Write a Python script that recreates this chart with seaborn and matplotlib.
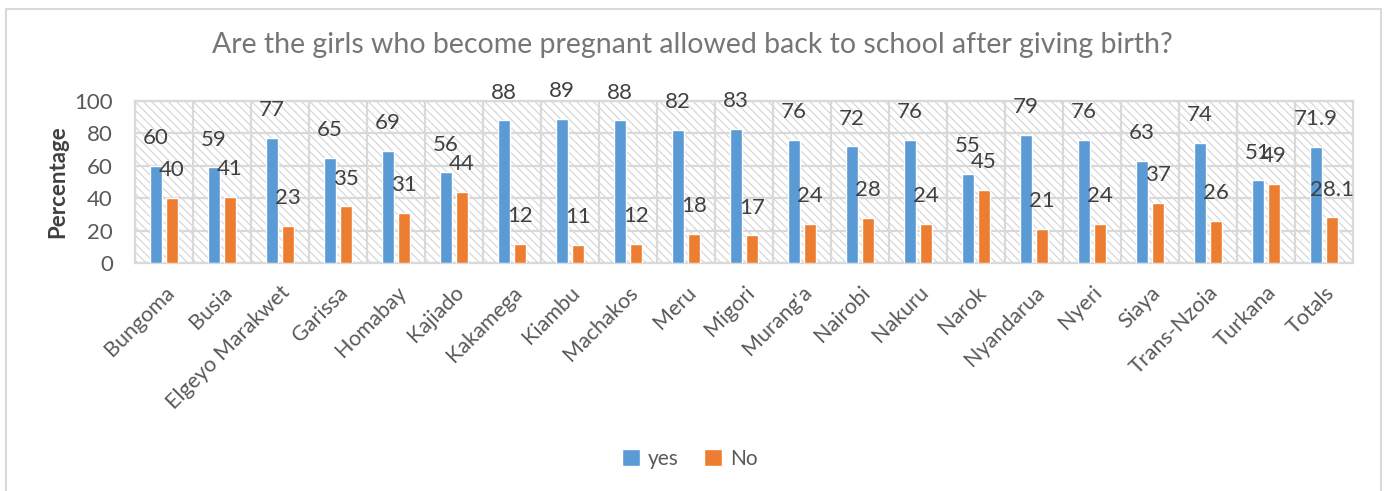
import matplotlib
matplotlib.use("Agg")
import matplotlib.pyplot as plt
from matplotlib.patches import Rectangle, Patch
import seaborn as sns
import pandas as pd
import numpy as np

counties = ["Bungoma", "Busia", "Elgeyo Marakwet", "Garissa", "Homabay", "Kajiado",
            "Kakamega", "Kiambu", "Machakos", "Meru", "Migori", "Murang'a", "Nairobi",
            "Nakuru", "Narok", "Nyandarua", "Nyeri", "Siaya", "Trans-Nzoia", "Turkana",
            "Totals"]
yes_pct = [60, 59, 77, 65, 69, 56, 88, 89, 88, 82, 83, 76, 72, 76, 55, 79, 76, 63, 74, 51, 71.9]
no_pct = [40, 41, 23, 35, 31, 44, 12, 11, 12, 18, 17, 24, 28, 24, 45, 21, 24, 37, 26, 49, 28.1]
series_names = ["yes", "No"]
yticks = [0, 20, 40, 60, 80, 100]

BLUE = "#5B9BD5"
ORANGE = "#ED7D31"
TEXT = "#595959"
GRID = "#D9D9D9"

sns.set_theme(style="white")
plt.rcParams["font.family"] = ["Lato", "DejaVu Sans"]
plt.rcParams["hatch.linewidth"] = 0.8
plt.rcParams["hatch.color"] = "#D4D4D4"

df = pd.DataFrame({
    "county": counties * 2,
    "pct": yes_pct + no_pct,
    "answer": [series_names[0]] * len(counties) + [series_names[1]] * len(counties),
})

fig = plt.figure(figsize=(13.85, 4.91), dpi=100)
ax = fig.add_axes([135 / 1385, 1 - 263 / 491, (1353 - 135) / 1385, (263 - 101) / 491])

# hatched plot-area background
bg = Rectangle((0, 0), 1, 1, transform=ax.transAxes, facecolor="white",
               edgecolor="#D4D4D4", linewidth=0, hatch="\\\\\\\\", zorder=0)
ax.add_patch(bg)

sns.barplot(data=df, x="county", y="pct", hue="answer", order=counties,
            hue_order=series_names, palette=[BLUE, ORANGE], width=0.55, gap=0.3,
            saturation=1, legend=False, ax=ax, zorder=3)

# value labels above each bar
for container, vals in zip(ax.containers, [yes_pct, no_pct]):
    for bar, v in zip(container, vals):
        txt = f"{v:g}"
        ax.annotate(txt, (bar.get_x() + bar.get_width() / 2, bar.get_height()),
                    xytext=(0, 20), textcoords="offset points", ha="center",
                    va="center", fontsize=16, color="#404040", zorder=5,
                    annotation_clip=False)

ax.set_ylim(0, 100)
ax.set_xlim(-0.5, len(counties) - 0.5)
ax.set_yticks(yticks)
ax.set_xticks(np.arange(len(counties)) - 0.5, minor=True)
ax.grid(axis="y", which="major", color=GRID, linewidth=1.6, zorder=1)
ax.grid(axis="x", which="minor", color=GRID, linewidth=1.6, zorder=1)
ax.grid(axis="x", which="major", visible=False)
ax.set_axisbelow(True)
for s in ax.spines.values():
    s.set_color(GRID)
    s.set_linewidth(1.6)

ax.tick_params(axis="both", which="both", length=0)
ax.tick_params(axis="y", labelsize=16, labelcolor=TEXT, pad=16)
ax.tick_params(axis="x", labelsize=15.5, labelcolor=TEXT, pad=14)
for lab in ax.get_xticklabels():
    lab.set_rotation(45)
    lab.set_ha("right")
    lab.set_rotation_mode("anchor")

ax.set_xlabel("")
ax.set_ylabel("Percentage", fontsize=16, fontweight="bold", color="#404040", labelpad=4)

fig.text(0.5, 1 - 45 / 491, "Are the girls who become pregnant allowed back to school after giving birth?",
         ha="center", va="center", fontsize=20.5, color="#767676")

handles = [Patch(facecolor=BLUE, label=series_names[0]),
           Patch(facecolor=ORANGE, label=series_names[1])]
fig.legend(handles=handles, loc="center", bbox_to_anchor=(690 / 1385, 1 - 459 / 491),
           ncol=2, frameon=False, fontsize=15, labelcolor=TEXT, handlelength=0.85,
           handleheight=0.85, handletextpad=0.4, columnspacing=1.2)

# outer chart frame
fig.patches.append(Rectangle((6 / 1385, -0.01), (1381 - 6) / 1385, 1 - 9 / 491 + 0.01,
                             transform=fig.transFigure, facecolor="none",
                             edgecolor=GRID, linewidth=1.5))

fig.savefig("out.png", dpi=100)
